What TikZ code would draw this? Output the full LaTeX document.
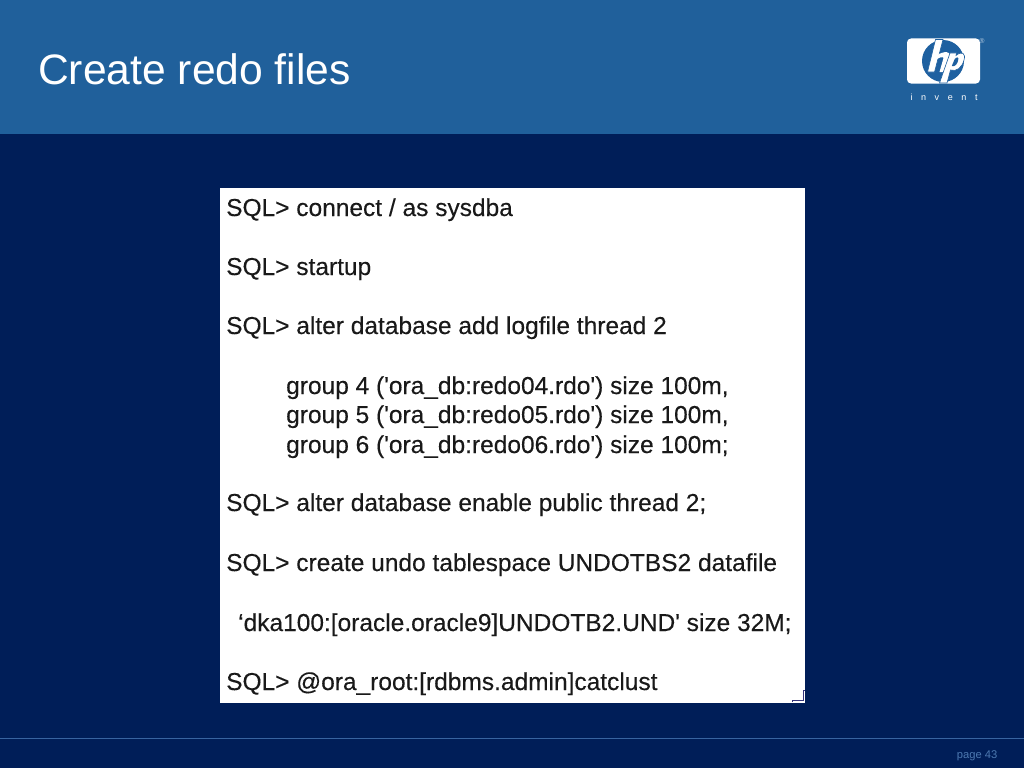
\documentclass[tikz,border=0pt]{standalone}
\usepackage{fontspec}
\setmainfont{Liberation Sans}
\newfontfamily\sqlfont[FakeBold=0.25]{Liberation Sans}
\definecolor{headblue}{RGB}{32,96,155}
\definecolor{navy}{RGB}{0,30,88}
\definecolor{ruleblue}{RGB}{56,100,160}
\definecolor{pageblue}{RGB}{76,120,176}
\definecolor{logoblue}{RGB}{30,96,160}
\tikzset{
  sql/.style={anchor=base west,inner sep=0pt,text=black!90,font=\sqlfont\fontsize{24.5}{26}\selectfont},
  hpstroke/.style={draw=logoblue,line width=0.6pt,fill=white},
}
\begin{document}
\begin{tikzpicture}[x=1pt,y=-1pt]
\useasboundingbox (0,0) rectangle (1024,768);
\fill[navy] (0,0) rectangle (1024,768);
\fill[headblue] (0,0) rectangle (1024,134);
\fill[ruleblue] (0,737.5) rectangle (1024,739);
\node[anchor=base west,inner sep=0pt,text=white,font=\fontsize{42.6}{46}\selectfont] (title) at (38,84) {Create redo files};
% logo
\fill[white,rounded corners=4pt] (907,38.5) rectangle (980,83.5);
\fill[logoblue] (943,61) circle (21);
\draw[hpstroke] (935.5,39.5) -- (943,39.5) -- (934.5,72) -- (927.5,72) -- cycle;
\fill[white] (934,58) .. controls (939,52) and (951,49) .. (950,57) -- (946,72) -- (939.5,72) -- (943.5,58) .. controls (943.5,56.5) and (939,56.5) .. (933,62) -- cycle;
\draw[hpstroke] (950,53) -- (956.5,53) -- (956,55.5) .. controls (962,50.5) and (966,53.5) .. (964,60) .. controls (962,68) and (956,72) .. (950.5,70) -- (947,83) -- (939.5,83) -- cycle;
\fill[logoblue] (954.7,59) .. controls (957,56.5) and (959,57) .. (958.2,60) .. controls (957.5,64) and (955,67) .. (951.8,66) -- cycle;
\node[inner sep=0pt,text=white!70!logoblue,font=\fontsize{7}{7}\selectfont] (reg) at (982,41) {®};
\node[anchor=base,inner sep=0pt,text=white,font=\fontsize{9}{9}\selectfont] (invent) at (944,100) {i\hspace{8.6pt}n\hspace{8.6pt}v\hspace{8.6pt}e\hspace{8.6pt}n\hspace{8.6pt}t};
% panel
\fill[white] (220,188) rectangle (805,703);
\node[sql] (l1) at (226,216) {SQL> connect / as sysdba};
\node[sql] (l2) at (226,275) {SQL> startup};
\node[sql] (l3) at (226,334) {SQL> alter database add logfile thread 2};
\node[sql] (l4) at (286,394) {group 4 ('ora\_db:redo04.rdo') size 100m,};
\node[sql] (l5) at (286,423) {group 5 ('ora\_db:redo05.rdo') size 100m,};
\node[sql] (l6) at (286,453) {group 6 ('ora\_db:redo06.rdo') size 100m;};
\node[sql] (l7) at (226,511) {SQL> alter database enable public thread 2;};
\node[sql] (l8) at (226,571) {SQL> create undo tablespace UNDOTBS2 datafile};
\node[sql] (l9) at (238,631) {‘dka100:[oracle.oracle9]UNDOTB2.UND' size 32M;};
\node[sql] (l10) at (226,690) {SQL> @ora\_root:[rdbms.admin]catclust};
\draw[black!65!blue!80!white,line width=1.3pt] (792.7,702) -- (792.7,700.8) -- (803.2,700.8) -- (803.2,690.6) -- (805,690.6);
\node[anchor=base east,inner sep=0pt,text=pageblue,font=\fontsize{11.2}{13}\selectfont] (page) at (997.5,758) {page 43};
\end{tikzpicture}
\end{document}
